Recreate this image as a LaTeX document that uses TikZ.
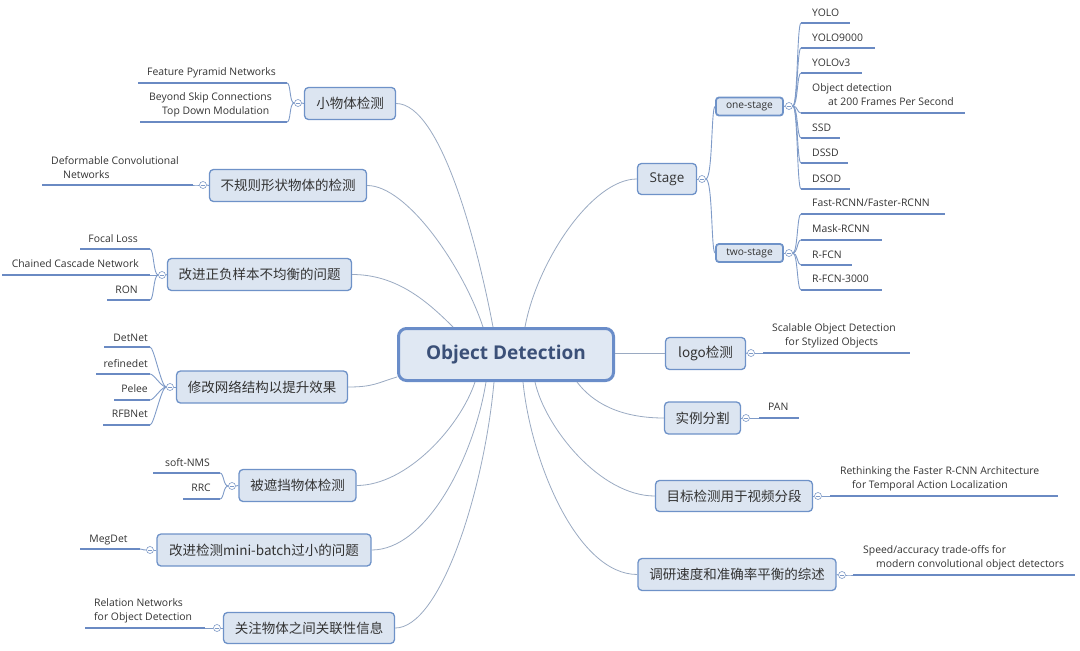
\documentclass[tikz,border=0pt]{standalone}
\usepackage{fontspec}
\setmainfont{Open Sans}
\newfontfamily\cjk{Noto Sans CJK SC}
\definecolor{mainfill}{HTML}{DCE5F1}
\definecolor{centerfill}{HTML}{E0E8F3}
\definecolor{mainborder}{HTML}{6E92C8}
\definecolor{centerborder}{HTML}{6A8DC9}
\definecolor{linecol}{HTML}{6A8AC3}
\definecolor{conncol}{HTML}{9AAAC2}
\definecolor{brkcol}{HTML}{7F9BC8}
\definecolor{textcol}{HTML}{333333}
\definecolor{titlecol}{HTML}{3B5078}
\newcommand{\myuline}[4]{\coordinate (#1L) at (#3,-#2); \coordinate (#1R) at (#4,-#2); \draw[uline] (#1L) -- (#1R);}
\begin{document}
\begin{tikzpicture}[x=1pt,y=1pt,
  mainbox/.style={draw=mainborder, line width=1.3pt, fill=mainfill, rounded corners=4pt, text=textcol, font=\cjk\fontsize{13.5}{16}\selectfont, inner sep=0pt},
  subbox/.style={draw=mainborder, line width=1.8pt, fill=mainfill, rounded corners=3pt, text=textcol, font=\fontsize{10.2}{12}\selectfont, minimum width=67pt, minimum height=18pt, inner sep=0pt},
  leaf/.style={font=\fontsize{10.4}{14}\selectfont, text=textcol, inner sep=0pt},
  uline/.style={draw=linecol, line width=2.5pt},
  conn/.style={draw=conncol, line width=0.8pt},
  brk/.style={draw=brkcol, line width=0.9pt},
  tog/.style={circle, draw=brkcol, fill=white, line width=0.6pt, minimum size=7pt, inner sep=0pt,
    path picture={\draw[brkcol, line width=0.5pt] ([xshift=-1.8pt]path picture bounding box.center) -- ([xshift=1.8pt]path picture bounding box.center);}},
]
\useasboundingbox (0,0) rectangle (1080,-651);

% central node
\node[draw=centerborder, line width=3pt, fill=centerfill, rounded corners=8pt, minimum width=215pt, minimum height=52pt, font=\bfseries\fontsize{19}{23}\selectfont, text=titlecol, inner sep=0pt] (c) at (506,-354.5) {Object Detection};

% main nodes left
\node[mainbox, minimum width=91pt, minimum height=32pt] (m1) at (350,-103.5) {小物体检测};
\node[mainbox, minimum width=157pt, minimum height=32pt] (m2) at (288,-185.5) {不规则形状物体的检测};
\node[mainbox, minimum width=184pt, minimum height=32pt] (m3) at (259.5,-274.5) {改进正负样本不均衡的问题};
\node[mainbox, minimum width=171pt, minimum height=32pt] (m4) at (262,-387) {修改网络结构以提升效果};
\node[mainbox, minimum width=117pt, minimum height=32pt] (m5) at (297.5,-485.5) {被遮挡物体检测};
\node[mainbox, minimum width=214pt, minimum height=32pt] (m6) at (264,-550) {改进检测mini-batch过小的问题};
\node[mainbox, minimum width=171pt, minimum height=31pt] (m7) at (309,-628) {关注物体之间关联性信息};

% main nodes right
\node[mainbox, minimum width=59pt, minimum height=31pt, font=\fontsize{13.5}{16}\selectfont] (r1) at (667,-179) {Stage};
\node[mainbox, minimum width=80pt, minimum height=32pt] (r2) at (705.5,-353.5) {logo检测};
\node[mainbox, minimum width=76pt, minimum height=32pt] (r3) at (702.5,-418) {实例分割};
\node[mainbox, minimum width=157pt, minimum height=31pt] (r4) at (734,-496) {目标检测用于视频分段};
\node[mainbox, minimum width=198pt, minimum height=32pt] (r5) at (737,-574.5) {调研速度和准确率平衡的综述};
\node[subbox] (s1) at (749.5,-106.5) {one-stage};
\node[subbox] (s2) at (749.5,-253) {two-stage};

% toggles
\node[tog] (t1) at (298,-103) {};
\node[tog] (t2) at (203,-185) {};
\node[tog] (t3) at (162,-275) {};
\node[tog] (t4) at (170,-387) {};
\node[tog] (t5) at (232,-486) {};
\node[tog] (t6) at (150,-550) {};
\node[tog] (t7) at (217,-628) {};
\node[tog] (t8) at (702,-179) {};
\node[tog] (t9) at (789,-106) {};
\node[tog] (t10) at (789,-253) {};
\node[tog] (t11) at (751,-353) {};
\node[tog] (t12) at (746,-418) {};
\node[tog] (t13) at (818,-496) {};
\node[tog] (t14) at (842,-575) {};

% attachment points on central node
\coordinate (c1) at (493,-327);
\coordinate (c2) at (483,-327);
\coordinate (c3) at (453,-327);
\coordinate (c4) at (397,-377);
\coordinate (c5) at (475,-382);
\coordinate (c6) at (486,-382);
\coordinate (c7) at (494,-382);
\coordinate (c8) at (525,-327);
\coordinate (c9) at (577,-382);
\coordinate (c10) at (535,-382);
\coordinate (c11) at (523,-382);

% main connectors
\draw[conn] (m1.east) .. controls +(45,0) and +(-15,80) .. (c1);
\draw[conn] (m2.east) .. controls +(40,0) and +(-20,60) .. (c2);
\draw[conn] (m3.east) .. controls +(45,0) and +(-25,25) .. (c3);
\draw[conn] (m4.east) .. controls +(25,0) and +(-20,-6) .. (c4);
\draw[conn] (m5.east) .. controls +(50,0) and +(-15,-45) .. (c5);
\draw[conn] (m6.east) .. controls +(55,0) and +(-12,-75) .. (c6);
\draw[conn] (m7.east) .. controls +(45,0) and +(-10,-110) .. (c7);
\draw[conn] (r1.west) .. controls +(-45,0) and +(12,65) .. (c8);
\draw[conn] (r2.west) -- (r2.west -| c.east);
\draw[conn] (r3.west) .. controls +(-45,0) and +(15,-20) .. (c9);
\draw[conn] (r4.west) .. controls +(-55,0) and +(10,-45) .. (c10);
\draw[conn] (r5.west) .. controls +(-60,0) and +(8,-80) .. (c11);

% box to toggle
\foreach \m/\t in {m1/t1,m2/t2,m3/t3,m4/t4,m5/t5,m6/t6,m7/t7}{\draw[brk] (\m.west) -- (\t.east);}
\foreach \m/\t in {r1/t8,s1/t9,s2/t10,r2/t11,r3/t12,r4/t13,r5/t14}{\draw[brk] (\m.east) -- (\t.west);}

% stage to sub
\draw[brk] (t8.east) .. controls +(7,0) and +(-4,0) .. (s1.west);
\draw[brk] (t8.east) .. controls +(7,0) and +(-4,0) .. (s2.west);

% underlines
\myuline{fpn}{83}{138}{287}
\myuline{bey}{122}{140}{287}
\myuline{dcn}{185}{42}{193}
\myuline{foc}{249}{80}{150}
\myuline{chn}{275}{2}{150}
\myuline{ron}{300}{107}{150}
\myuline{det}{347}{104}{150}
\myuline{ref}{374}{96}{150}
\myuline{pel}{400}{114}{150}
\myuline{rfb}{425}{103}{150}
\myuline{nms}{473}{153}{220}
\myuline{rrc}{499}{183}{220}
\myuline{meg}{549}{80}{140}
\myuline{rel}{628}{85}{205}
\myuline{ya}{23}{801}{850}
\myuline{yb}{48}{801}{875}
\myuline{yc}{73}{801}{862}
\myuline{yd}{113}{801}{965}
\myuline{ye}{138}{801}{840}
\myuline{yf}{163}{801}{848}
\myuline{yg}{189}{801}{850}
\myuline{za}{214}{801}{945}
\myuline{zb}{240}{801}{882}
\myuline{zc}{265}{801}{852}
\myuline{zd}{290}{801}{882}
\myuline{sca}{353}{763}{910}
\myuline{pan}{418}{759}{799}
\myuline{ret}{496}{830}{1058}
\myuline{spd}{575}{853}{1075}

% brackets left
\foreach \t/\u in {t1/fpn,t1/bey,t2/dcn,t3/foc,t3/chn,t3/ron,t4/det,t4/ref,t4/pel,t4/rfb,t5/nms,t5/rrc,t6/meg,t7/rel}{
  \draw[brk] (\t.west) .. controls +(-5,0) and +(4,0) .. (\u R);}
% brackets right
\foreach \t/\u in {t9/ya,t9/yb,t9/yc,t9/yd,t9/ye,t9/yf,t9/yg,t10/za,t10/zb,t10/zc,t10/zd,t11/sca,t12/pan,t13/ret,t14/spd}{
  \draw[brk] (\t.east) .. controls +(5,0) and +(-4,0) .. (\u L);}

% leaf texts left
\node[leaf] (lfpn) at (211.5,-73) {Feature Pyramid Networks};
\node[leaf, anchor=west, align=left] (lbey) at (149,-105) {Beyond Skip Connections\\\hspace*{13pt}Top Down Modulation};
\node[leaf, anchor=west, align=left] (ldcn) at (51,-167.5) {Deformable Convolutional\\\hspace*{12pt}Networks};
\node[leaf, anchor=east] (lfoc) at (138,-239) {Focal Loss};
\node[leaf, anchor=east] (lchn) at (139,-264) {Chained Cascade Network};
\node[leaf, anchor=east] (lron) at (138,-290) {RON};
\node[leaf, anchor=east] (ldet) at (148,-338) {DetNet};
\node[leaf, anchor=east] (lref) at (148,-364) {refinedet};
\node[leaf, anchor=east] (lpel) at (148,-389) {Pelee};
\node[leaf, anchor=east] (lrfb) at (148,-414) {RFBNet};
\node[leaf, anchor=east] (lnms) at (210,-463) {soft-NMS};
\node[leaf, anchor=east] (lrrc) at (211,-488) {RRC};
\node[leaf] (lmeg) at (108.5,-540) {MegDet};
\node[leaf, anchor=west, align=left] (lrel) at (94,-611) {Relation Networks\\for Object Detection};

% leaf texts right
\node[leaf, anchor=west] (lya) at (812,-13) {YOLO};
\node[leaf, anchor=west] (lyb) at (812,-38) {YOLO9000};
\node[leaf, anchor=west] (lyc) at (812,-63) {YOLOv3};
\node[leaf, anchor=west, align=left] (lyd) at (812,-95) {Object detection\\\hspace*{16pt}at 200 Frames Per Second};
\node[leaf, anchor=west] (lye) at (812,-128) {SSD};
\node[leaf, anchor=west] (lyf) at (812,-153) {DSSD};
\node[leaf, anchor=west] (lyg) at (812,-179) {DSOD};
\node[leaf, anchor=west] (lza) at (812,-203) {Fast-RCNN/Faster-RCNN};
\node[leaf, anchor=west] (lzb) at (812,-229) {Mask-RCNN};
\node[leaf, anchor=west] (lzc) at (812,-255) {R-FCN};
\node[leaf, anchor=west] (lzd) at (812,-279) {R-FCN-3000};
\node[leaf, anchor=west, align=left] (lsca) at (772,-336) {Scalable Object Detection\\\hspace*{13pt}for Stylized Objects};
\node[leaf, anchor=west] (lpan) at (768,-407) {PAN};
\node[leaf, anchor=west, align=left] (lret) at (840,-479) {Rethinking the Faster R-CNN Architecture\\\hspace*{12pt}for Temporal Action Localization};
\node[leaf, anchor=west, align=left] (lspd) at (863,-557.5) {Speed/accuracy trade-offs for\\\hspace*{13pt}modern convolutional object detectors};
\end{tikzpicture}
\end{document}
